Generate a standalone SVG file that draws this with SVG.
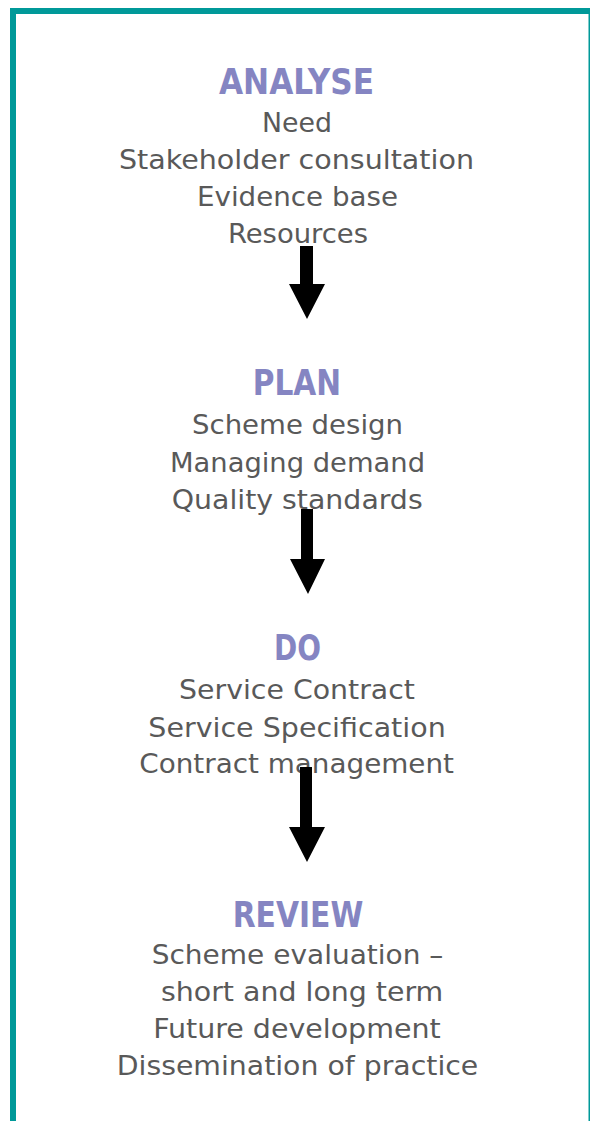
<svg xmlns="http://www.w3.org/2000/svg" width="590" height="1121" viewBox="0 0 590 1121">
<style>
.h{font-family:"DejaVu Sans Condensed","DejaVu Sans",sans-serif;font-stretch:condensed;font-weight:bold;font-size:36px;fill:#8585C2}
.t{font-family:"DejaVu Sans Condensed","DejaVu Sans",sans-serif;font-stretch:condensed;font-size:27px;fill:#595959}
.border{fill:#009999}
.arrow{fill:#000}
</style>
<rect width="590" height="1121" fill="#fff"/>
<g id="frame">
<rect class="border" x="10" y="8" width="580" height="6"/>
<rect class="border" x="10" y="8" width="6" height="1113"/>
<rect class="border" x="588.5" y="8" width="1.5" height="1113"/>
</g>
<g id="analyse">
<text class="h" x="219" y="94.3" textLength="155" lengthAdjust="spacingAndGlyphs">ANALYSE</text>
<text class="t" x="262" y="131.7" textLength="70" lengthAdjust="spacingAndGlyphs">Need</text>
<text class="t" x="119" y="169" textLength="355" lengthAdjust="spacingAndGlyphs">Stakeholder consultation</text>
<text class="t" x="197" y="205.7" textLength="201" lengthAdjust="spacingAndGlyphs">Evidence base</text>
<text class="t" x="228" y="243" textLength="140" lengthAdjust="spacingAndGlyphs">Resources</text>
</g>
<g id="plan">
<text class="h" x="252.7" y="395" textLength="88.3" lengthAdjust="spacingAndGlyphs">PLAN</text>
<text class="t" x="192" y="434" textLength="211" lengthAdjust="spacingAndGlyphs">Scheme design</text>
<text class="t" x="170" y="471.7" textLength="255" lengthAdjust="spacingAndGlyphs">Managing demand</text>
<text class="t" x="171.7" y="509" textLength="251" lengthAdjust="spacingAndGlyphs">Quality standards</text>
</g>
<g id="do">
<text class="h" x="274" y="660" textLength="47" lengthAdjust="spacingAndGlyphs">DO</text>
<text class="t" x="179" y="699" textLength="236" lengthAdjust="spacingAndGlyphs">Service Contract</text>
<text class="t" x="148.3" y="736.7" textLength="297.4" lengthAdjust="spacingAndGlyphs">Service Specification</text>
<text class="t" x="139.3" y="773.3" textLength="314.7" lengthAdjust="spacingAndGlyphs">Contract management</text>
</g>
<g id="review">
<text class="h" x="232.7" y="926.7" textLength="130.6" lengthAdjust="spacingAndGlyphs">REVIEW</text>
<text class="t" x="151.7" y="964" textLength="291.6" lengthAdjust="spacingAndGlyphs">Scheme evaluation –</text>
<text class="t" x="161" y="1001" textLength="282.3" lengthAdjust="spacingAndGlyphs">short and long term</text>
<text class="t" x="153.3" y="1038.3" textLength="287.4" lengthAdjust="spacingAndGlyphs">Future development</text>
<text class="t" x="116.7" y="1075" textLength="361.6" lengthAdjust="spacingAndGlyphs">Dissemination of practice</text>
</g>
<g id="connectors">
<polygon class="arrow" points="300,246 313,246 313,284 325,284 307,319 289,284 300,284"/>
<polygon class="arrow" points="301,509 313,509 313,559 325,559 308,594 290,559 301,559"/>
<polygon class="arrow" points="300,767 312,767 312,827 325,827 307,862 289,827 300,827"/>
</g>
</svg>
